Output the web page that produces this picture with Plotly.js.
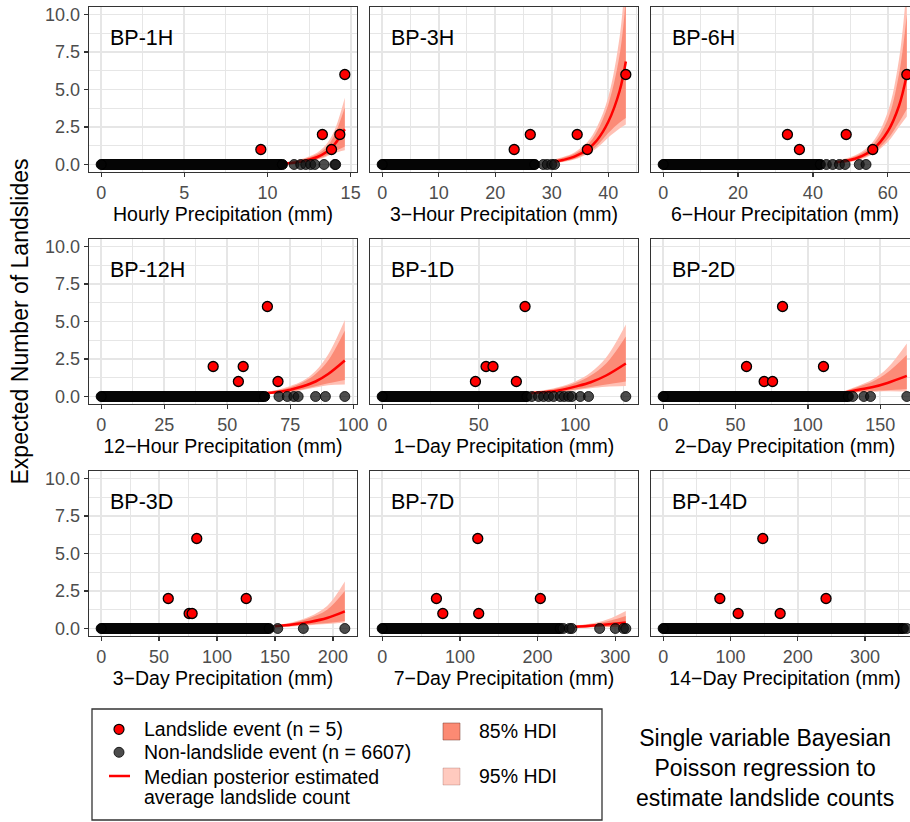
<!DOCTYPE html>
<html>
<head>
<meta charset="utf-8">
<script src="https://cdn.plot.ly/plotly-3.0.1.min.js"></script>
<style>
html,body{margin:0;padding:0;overflow:hidden;background:#fff;}
#chart{width:922px;height:822px;}
</style>
</head>
<body>
<div id="chart"></div>
<script>
// ---------------- DATA ----------------
const panelLabels = ['BP-1H','BP-3H','BP-6H','BP-12H','BP-1D','BP-2D','BP-3D','BP-7D','BP-14D'];
const xTitles = ['Hourly Precipitation (mm)','3\u2212Hour Precipitation (mm)','6\u2212Hour Precipitation (mm)',
  '12\u2212Hour Precipitation (mm)','1\u2212Day Precipitation (mm)','2\u2212Day Precipitation (mm)',
  '3\u2212Day Precipitation (mm)','7\u2212Day Precipitation (mm)','14\u2212Day Precipitation (mm)'];
const xDticks = [5,10,20,25,50,50,50,100,100];
const yTickVals = [0,2.5,5,7.5,10];

// landslide events (x = precipitation, y = landslide count)
const slideX = [
  [9.6,13.3,13.85,14.35,14.65],
  [23.35,26.2,34.5,36.3,43.1],
  [33.2,36.4,48.9,56.0,65.1],
  [44.4,54.4,56.3,65.9,70.1],
  [48.3,53.8,57.4,69.5,74.0],
  [57.6,69.8,75.6,82.5,110.8],
  [57.9,75.9,78.5,82.5,125.2],
  [69.8,78.0,123.0,124.2,203.5],
  [84.2,111.4,148.0,173.8,242.0]
];
const slideY = [
  [1,2,1,2,6],
  [1,2,2,1,6],
  [2,1,2,1,6],
  [2,1,2,6,1],
  [1,2,2,1,6],
  [2,1,1,6,2],
  [2,1,1,6,2],
  [2,1,6,1,2],
  [2,1,6,1,2]
];
// non-landslide events: dense overlapping band [start, end] and isolated points
const denseBand = [[0,10.9],[0,27.0],[0,42.0],[0,64.8],[0,75.0],[0,128.0],[0,145.0],[0,229.0],[0,357.0]];
const sparseX = [
  [11.6,12.0,12.3,12.6,12.85,13.4,14.05,14.1],
  [28.5,29.2,30.0,30.5],
  [43.6,45.3,47.1,48.6,52.4,54.2],
  [70.5,73.8,76.4,78.1,85.0,88.9,96.6],
  [77.5,81.0,83.6,86.2,88.8,92.2,94.3,96.6,98.3,102.6,106.9,126.2],
  [131.0,138.7,143.3,168.4],
  [152.4,174.5,210.3],
  [233.0,241.0,244.0,279.8,300.0,310.6,313.5],
  [362.0]
];
// posterior curves
const curveX = [
  [11.0,12.0,13.0,13.5,14.0,14.65],
  [30.5,32,34,36.3,38,40,42,43.1],
  [46,48,52,56,60,63,65.1],
  [64,70,75,80,85,90,96.6],
  [77,85,92,100,108,116,126.2],
  [125,135,145,155,168.4],
  [150,165,180,195,210.3],
  [248,265,280,295,313.5],
  []
];
const curveMed = [
  [0.07,0.19,0.5,0.8,1.3,2.35],
  [0.2,0.3,0.52,1.0,1.62,2.85,4.9,6.87],
  [0.14,0.2,0.45,1.0,2.2,3.9,6.0],
  [0.2,0.3,0.45,0.68,1.0,1.5,2.4],
  [0.22,0.3,0.42,0.66,0.95,1.4,2.2],
  [0.25,0.45,0.63,0.9,1.37],
  [0.15,0.27,0.44,0.7,1.14],
  [0.12,0.17,0.23,0.3,0.4],
  []
];
const lo95 = [
  [0.03,0.1,0.32,0.5,0.75,0.95],
  [0.1,0.17,0.33,0.7,1.1,1.8,2.4,2.67],
  [0.07,0.11,0.28,0.7,1.5,2.5,3.2],
  [0.12,0.2,0.3,0.43,0.6,0.75,0.8],
  [0.14,0.2,0.28,0.42,0.55,0.65,0.7],
  [0.16,0.26,0.31,0.35,0.33],
  [0.08,0.14,0.22,0.3,0.4],
  [0.05,0.07,0.08,0.08,0.07],
  []
];
const hi95 = [
  [0.15,0.35,0.8,1.3,2.2,4.45],
  [0.35,0.5,0.8,1.5,2.5,4.5,8.5,13],
  [0.25,0.35,0.7,1.5,3.5,7.0,12],
  [0.28,0.45,0.7,1.05,1.7,2.8,5.1],
  [0.32,0.45,0.65,1.0,1.6,2.6,4.8],
  [0.36,0.72,1.15,1.9,3.54],
  [0.22,0.42,0.8,1.5,3.14],
  [0.2,0.3,0.45,0.7,1.16],
  []
];
const lo85 = [
  [0.04,0.12,0.36,0.58,0.85,1.2],
  [0.12,0.2,0.38,0.78,1.25,2.1,2.8,3.1],
  [0.09,0.13,0.32,0.78,1.7,2.8,3.7],
  [0.14,0.22,0.33,0.48,0.68,0.88,1.1],
  [0.16,0.22,0.31,0.47,0.63,0.8,1.0],
  [0.19,0.3,0.37,0.42,0.5],
  [0.1,0.17,0.26,0.36,0.5],
  [0.07,0.09,0.11,0.12,0.12],
  []
];
const hi85 = [
  [0.12,0.3,0.7,1.1,1.9,3.8],
  [0.3,0.45,0.72,1.3,2.2,4.0,7.3,11],
  [0.22,0.3,0.62,1.3,3.0,6.0,10],
  [0.26,0.41,0.62,0.95,1.5,2.4,4.4],
  [0.3,0.41,0.58,0.9,1.4,2.2,4.0],
  [0.33,0.65,1.0,1.6,2.77],
  [0.2,0.37,0.7,1.25,2.5],
  [0.17,0.26,0.37,0.55,0.84],
  []
];
const legendLabels = ['Landslide event (n = 5)','Non-landslide event (n = 6607)',
  'Median posterior estimated','average landslide count','85% HDI','95% HDI'];
const captionText = 'Single variable Bayesian<br>Poisson regression to<br>estimate landslide counts';
const yTitle = 'Expected Number of Landslides';

// ---------------- STYLE / LAYOUT ----------------
const W = 922, H = 822;
const FONT = 'Liberation Sans, Arial, Helvetica, sans-serif';
const colsPx = [[89,357],[370,638],[651,919]];
const rowsPx = [[7,172],[239,404],[471,636]];
const C95 = 'rgb(255,192,180)';
const C85 = 'rgba(250,118,96,0.72)';
const GRID = '#E6E6E6';
const px = p => p / W;
const py = p => 1 - p / H;

const traces = [];
const layout = {
  width: W, height: H,
  margin: {l:0, r:0, t:0, b:0},
  paper_bgcolor: '#fff', plot_bgcolor: '#fff',
  showlegend: false,
  font: {family: FONT, color: '#000'},
  annotations: [], shapes: []
};

for (let i = 0; i < 9; i++) {
  const row = Math.floor(i / 3), col = i % 3;
  const sfx = i === 0 ? '' : String(i + 1);
  const xa = 'x' + sfx, ya = 'y' + sfx;
  const allX = slideX[i].concat(sparseX[i], denseBand[i]);
  const mx = Math.max.apply(null, allX);
  const mn = Math.min.apply(null, allX);
  const span = mx - mn;
  layout['xaxis' + sfx] = {
    domain: [px(colsPx[col][0]), px(colsPx[col][1])],
    anchor: ya,
    range: [mn - 0.05 * span, mx + 0.05 * span],
    tick0: 0, dtick: xDticks[i],
    showline: true, mirror: true, linecolor: '#333333', linewidth: 1.3,
    ticks: 'outside', ticklen: 4, tickwidth: 1.3, tickcolor: '#333333',
    tickfont: {family: FONT, size: 18, color: '#4D4D4D'},
    showgrid: true, gridcolor: GRID, gridwidth: 1.8,
    minor: {showgrid: true, gridcolor: GRID, gridwidth: 1, dtick: xDticks[i] / 2, tick0: 0},
    zeroline: false, automargin: false, fixedrange: true,
    title: {text: xTitles[i], font: {family: FONT, size: 19.5, color: '#000'}, standoff: 3}
  };
  layout['yaxis' + sfx] = {
    domain: [py(rowsPx[row][1]), py(rowsPx[row][0])],
    anchor: xa,
    range: [-0.5, 10.5],
    tickvals: yTickVals, tickformat: '.1f',
    showticklabels: col === 0,
    ticks: col === 0 ? 'outside' : '', ticklen: 4, tickwidth: 1.3, tickcolor: '#333333',
    tickfont: {family: FONT, size: 18, color: '#4D4D4D'},
    showline: true, mirror: true, linecolor: '#333333', linewidth: 1.3,
    showgrid: true, gridcolor: GRID, gridwidth: 1.8,
    minor: {showgrid: true, gridcolor: GRID, gridwidth: 1, tickvals: [1.25,3.75,6.25,8.75]},
    zeroline: false, automargin: false, fixedrange: true
  };

  // HDI ribbons and median
  if (curveX[i].length) {
    traces.push({x: curveX[i], y: lo95[i], xaxis: xa, yaxis: ya, type: 'scatter', mode: 'lines',
      line: {width: 0, shape: 'spline', color: C95}, hoverinfo: 'skip'});
    traces.push({x: curveX[i], y: hi95[i], xaxis: xa, yaxis: ya, type: 'scatter', mode: 'lines',
      fill: 'tonexty', fillcolor: C95, line: {width: 0, shape: 'spline', color: C95}, hoverinfo: 'skip'});
    traces.push({x: curveX[i], y: lo85[i], xaxis: xa, yaxis: ya, type: 'scatter', mode: 'lines',
      line: {width: 0, shape: 'spline', color: C85}, hoverinfo: 'skip'});
    traces.push({x: curveX[i], y: hi85[i], xaxis: xa, yaxis: ya, type: 'scatter', mode: 'lines',
      fill: 'tonexty', fillcolor: C85, line: {width: 0, shape: 'spline', color: C85}, hoverinfo: 'skip'});
    traces.push({x: curveX[i], y: curveMed[i], xaxis: xa, yaxis: ya, type: 'scatter', mode: 'lines',
      line: {width: 2.5, shape: 'spline', color: '#FF0000'}, hoverinfo: 'skip'});
  }
  // dense band of overlapping non-landslide events
  traces.push({x: denseBand[i], y: denseBand[i].map(() => 0), xaxis: xa, yaxis: ya, type: 'scatter',
    mode: 'lines+markers', line: {width: 11, color: '#050505'},
    marker: {size: 10, color: '#050505', line: {width: 1, color: '#000'}}, hoverinfo: 'skip', cliponaxis: false});
  // isolated non-landslide events
  traces.push({x: sparseX[i], y: sparseX[i].map(() => 0), xaxis: xa, yaxis: ya, type: 'scatter',
    mode: 'markers', marker: {size: 10, color: 'rgba(20,20,20,0.76)', line: {width: 1, color: 'rgba(0,0,0,0.8)'}},
    hoverinfo: 'skip', cliponaxis: false});
  // landslide events
  traces.push({x: slideX[i], y: slideY[i], xaxis: xa, yaxis: ya, type: 'scatter', mode: 'markers',
    marker: {size: 10, color: '#FF0000', line: {width: 1.3, color: '#000'}}, hoverinfo: 'skip', cliponaxis: false});

  // panel label
  layout.annotations.push({text: panelLabels[i], xref: xa + ' domain', yref: ya + ' domain',
    x: 0.072, y: 0.813, xanchor: 'left', yanchor: 'middle', showarrow: false,
    font: {family: FONT, size: 21.5, color: '#000'}});
}

// y-axis title
layout.annotations.push({text: yTitle, xref: 'paper', yref: 'paper', x: px(19), y: py(321.5),
  xanchor: 'center', yanchor: 'middle', textangle: -90, showarrow: false,
  font: {family: FONT, size: 23, color: '#000'}});

// caption
layout.annotations.push({text: captionText, xref: 'paper', yref: 'paper', x: px(765), y: py(768),
  xanchor: 'center', yanchor: 'middle', align: 'center', showarrow: false,
  font: {family: FONT, size: 23, color: '#000'}});

// legend box
layout.shapes.push({type: 'rect', xref: 'paper', yref: 'paper', x0: px(92), x1: px(602), y0: py(709), y1: py(820),
  line: {color: '#333333', width: 1.3}, fillcolor: 'rgba(0,0,0,0)'});
// legend glyphs
layout.shapes.push({type: 'circle', xref: 'paper', yref: 'paper', x0: px(114), x1: px(124), y0: py(724.3), y1: py(734.3),
  fillcolor: '#FF0000', line: {color: '#000', width: 1.2}});
layout.shapes.push({type: 'circle', xref: 'paper', yref: 'paper', x0: px(114), x1: px(124), y0: py(747.3), y1: py(757.3),
  fillcolor: 'rgba(20,20,20,0.76)', line: {color: 'rgba(0,0,0,0.8)', width: 1}});
layout.shapes.push({type: 'line', xref: 'paper', yref: 'paper', x0: px(109), x1: px(130), y0: py(776), y1: py(776),
  line: {color: '#FF0000', width: 2.5}});
layout.shapes.push({type: 'rect', xref: 'paper', yref: 'paper', x0: px(443), x1: px(460), y0: py(723), y1: py(740),
  fillcolor: 'rgb(252,138,115)', line: {color: 'rgba(120,60,50,0.5)', width: 1}});
layout.shapes.push({type: 'rect', xref: 'paper', yref: 'paper', x0: px(443), x1: px(460), y0: py(768), y1: py(785),
  fillcolor: 'rgb(255,202,191)', line: {color: 'rgba(120,60,50,0.25)', width: 1}});
// legend text
const legPos = [[141.7,729.3],[141.7,752.3],[141.7,776.7],[141.7,797.3],[476.7,731],[476.7,776]];
legendLabels.forEach((t, k) => {
  layout.annotations.push({text: t, xref: 'paper', yref: 'paper', x: px(legPos[k][0]), y: py(legPos[k][1]),
    xanchor: 'left', yanchor: 'middle', showarrow: false, font: {family: FONT, size: 19.5, color: '#000'}});
});

Plotly.newPlot('chart', traces, layout, {displayModeBar: false, staticPlot: true});
</script>
</body>
</html>
